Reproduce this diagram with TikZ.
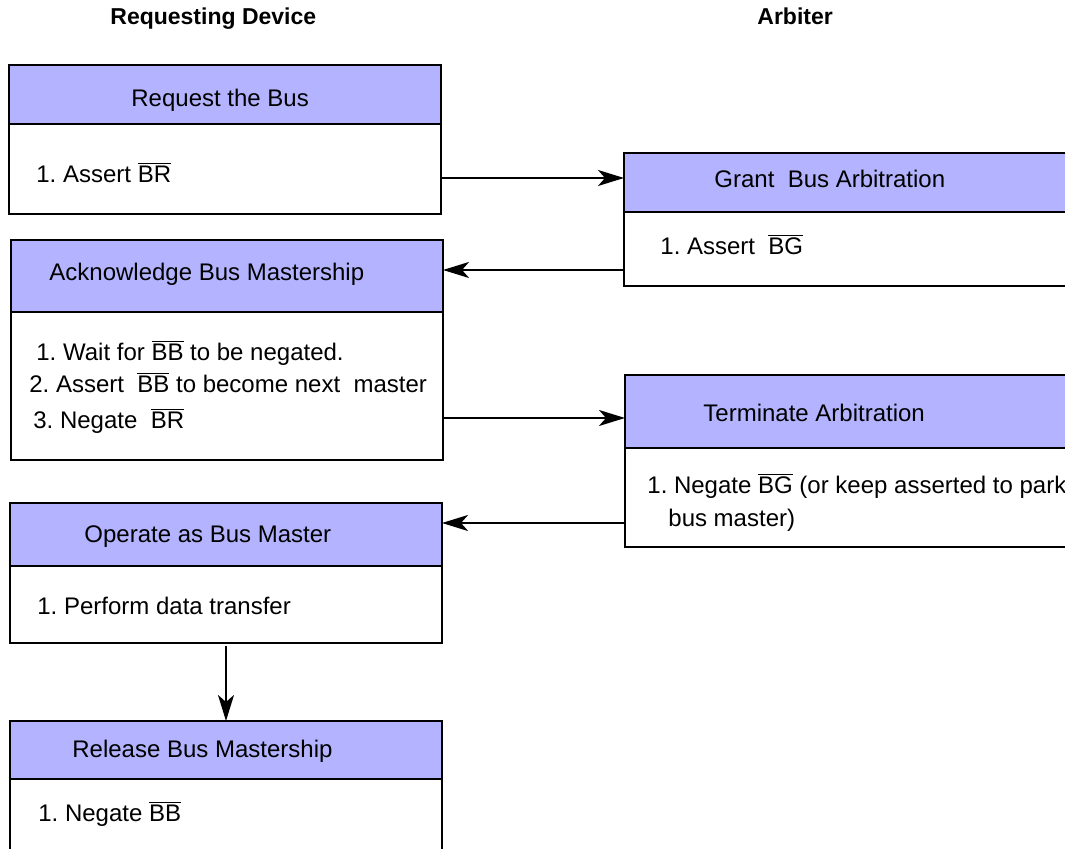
\documentclass[tikz,border=0pt]{standalone}
\usepackage{fontspec}
\setmainfont{Liberation Sans}
\usepackage{tikz}
\usetikzlibrary{arrows.meta,positioning}
\definecolor{lav}{HTML}{B3B3FF}
\newcommand{\sigbar}[1]{$\overline{\mbox{#1}}$}
\frenchspacing
\tikzset{
  head/.style={draw, line width=1.1pt, fill=lav, anchor=north west, inner sep=0pt, outer sep=0pt},
  body/.style={draw, line width=1.1pt, fill=white, anchor=north west, inner sep=0pt, outer sep=0pt},
  txt/.style={anchor=base west, inner sep=0pt, font=\fontsize{12}{14}\selectfont},
  col/.style={anchor=base west, inner sep=0pt, font=\fontsize{11.5}{14}\selectfont\bfseries},
  flow/.style={-{Stealth[length=13pt, width=8pt, inset=3.5pt]}, line width=1pt},
}

\begin{document}
\begin{tikzpicture}[x=0.5pt, y=-0.5pt]
  \useasboundingbox (0,0) rectangle (1065,849);
  \clip (0,0) rectangle (1065,849);
  % requesting device column
  \foreach \n/\x/\t/\a/\b in {req/9/65/29.5pt/45pt, ack/11/240/36pt/74pt, op/10/503/31.5pt/38.5pt, rel/10/721/29pt/45pt}
    { \node[head, minimum width=216pt, minimum height=\a] (\n-h) at (\x,\t) {};
      \node[body, minimum width=216pt, minimum height=\b] (\n-b) at (\n-h.south west) {}; }
  % arbiter column
  \foreach \n/\x/\t/\a/\b in {grant/624/153/29.5pt/37pt, term/625/375/36.5pt/49.5pt}
    { \node[head, minimum width=228pt, minimum height=\a] (\n-h) at (\x,\t) {};
      \node[body, minimum width=228pt, minimum height=\b] (\n-b) at (\n-h.south west) {}; }

  \node[col] (dev) at (110,25) {Requesting Device};
  \node[col] (arb) at (757,25) {Arbiter};

  \node[txt] (req-t) at (131,106.5) {Request the Bus};
  \node[txt] (req-s) at (36,182.5) {1. Assert \sigbar{BR}};
  \node[txt] (ack-t) at (49,281) {Acknowledge Bus Mastership};
  \node[txt] (ack-s1) at (36,361) {1. Wait for \sigbar{BB} to be negated.};
  \node[txt] (ack-s2) at (29,393) {2. Assert \ \sigbar{BB} to become next \ master};
  \node[txt] (ack-s3) at (33,429) {3. Negate \ \sigbar{BR}};
  \node[txt] (op-t) at (84,543) {Operate as Bus Master};
  \node[txt] (op-s) at (37,614) {1. Perform data transfer};
  \node[txt] (rel-t) at (72,757) {Release Bus Mastership};
  \node[txt] (rel-s) at (38,821.5) {1. Negate \sigbar{BB}};
  \node[txt] (grant-t) at (714,188) {Grant \ Bus Arbitration};
  \node[txt] (grant-s) at (660,255) {1. Assert \ \sigbar{BG}};
  \node[txt] (term-t) at (703,421.5) {Terminate Arbitration};
  \node[txt] (term-s1) at (647,493.5) {1. Negate \sigbar{BG} (or keep asserted to park};
  \node[txt] (term-s2) at (668,527) {bus master)};

  % handshake
  \coordinate (a1) at ([yshift=-4.5pt]req-b.east);
  \draw[flow] (a1) -- (a1 -| grant-h.west);
  \coordinate (a2) at ([yshift=-10.5pt]grant-b.west);
  \draw[flow] (a2) -- (a2 -| ack-h.east);
  \coordinate (a3) at ([yshift=-16pt]ack-b.east);
  \draw[flow] (a3) -- (a3 -| term-h.west);
  \coordinate (a4) at ([yshift=-12.75pt]term-b.west);
  \draw[flow] (a4) -- (a4 -| op-h.east);
  \draw[flow] ([yshift=-1.5pt]op-b.south) -- (rel-h.north);
\end{tikzpicture}
\end{document}
